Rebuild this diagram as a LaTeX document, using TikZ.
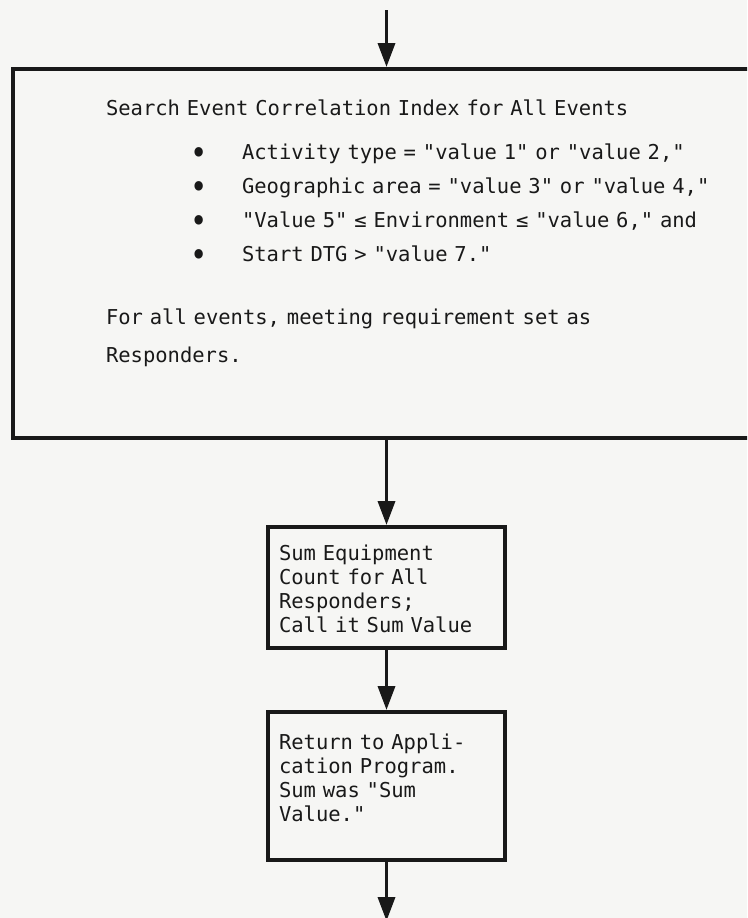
\documentclass[tikz,border=0pt]{standalone}
\usepackage{fontspec}
\newfontfamily\gothic[WordSpace={1,0,0}]{DejaVu Sans Mono}
\usetikzlibrary{arrows.meta,positioning}
\definecolor{paper}{RGB}{246,246,244}
\definecolor{ink}{RGB}{25,25,25}
\newcommand{\critdot}{\makebox[136pt][l]{\hspace*{84pt}\raisebox{-5pt}[0pt][0pt]{\scalebox{1.4}[1.6]{•}}}}
% full-width spaces, as on a typewriter
\newcommand{\typeset}[1]{\gothic\fontsize{20.5}{#1}\selectfont\fontdimen2\font=0.602em\frenchspacing\spaceskip=0.602em\relax}

\begin{document}
\begin{tikzpicture}[
    x=1pt, y=1pt,
    every node/.style={font=\typeset{24.3}, text=ink},
    frame/.style={draw=ink, line width=4pt, rectangle, align=left, inner ysep=12pt},
    arrow/.style={-{Triangle[width=17pt,length=24pt]}, draw=ink, line width=3.5pt}
]
\useasboundingbox (0,0) rectangle (747,-918);
\fill[paper] (0,0) rectangle (747,-918);
\clip (0,0) rectangle (747,-918);

% search box runs off the right edge
\node[frame, anchor=north west, inner xsep=93pt, text width=700pt, text height=34pt, text depth=311pt,
      font=\typeset{34}] (search) at (11,-67)
    {Search Event Correlation Index for All Events\\[10pt]
     \critdot Activity type = "value 1" or "value 2,"\\
     \critdot Geographic area = "value 3" or "value 4,"\\
     \critdot "Value 5" ≤ Environment ≤ "value 6," and\\
     \critdot Start DTG > "value 7."\\[29pt]
     For all events, meeting requirement set as\\[4pt]
     Responders.};

\node[frame, anchor=north west, text width=215pt, inner xsep=11pt, text height=21pt, text depth=76pt] (sum) at (266,-525)
    {Sum Equipment\\Count for All\\Responders;\\Call it Sum Value};
\node[frame, below=60pt of sum, text width=215pt, inner xsep=11pt, text height=25pt, text depth=99pt] (ret)
    {Return to Appli-\\cation Program.\\Sum was "Sum\\Value."};

\coordinate (entry) at (386.5,-10);
\coordinate (exit) at ([yshift=-59pt]ret.south);

\draw[arrow] (entry) -- (entry |- search.north);
\draw[arrow] (search.south -| sum.north) -- (sum.north);
\draw[arrow] (sum) -- (ret);
\draw[arrow] (ret) -- (exit);
\end{tikzpicture}
\end{document}
